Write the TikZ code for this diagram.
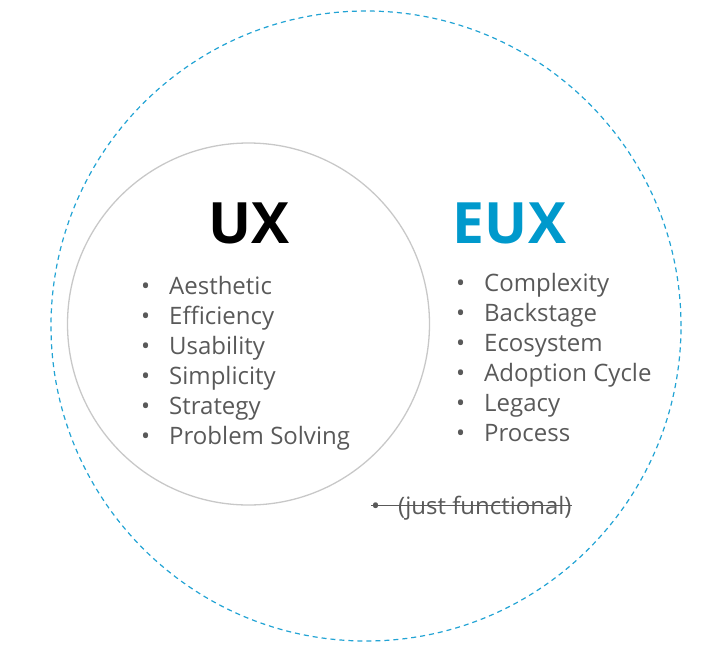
\documentclass[tikz,border=0pt]{standalone}
\usepackage{fontspec}
\setmainfont{Open Sans}
\definecolor{eublue}{HTML}{0099CC}
\definecolor{dashblue}{HTML}{22A3D4}
\definecolor{txtgray}{HTML}{595959}
\definecolor{ringgray}{HTML}{C8C8C8}
\begin{document}
\begin{tikzpicture}[x=1pt,y=-1pt,
  title/.style={font=\fontsize{57}{60}\selectfont\bfseries, anchor=base},
  item/.style={font=\fontsize{24}{28}\selectfont, text=txtgray, anchor=base west, inner sep=0pt},
]
\useasboundingbox (0,0) rectangle (706,656);
\node[draw=dashblue, line width=1.2pt, dash pattern=on 5pt off 4pt, circle, minimum size=630pt, inner sep=0pt] (outer) at (366,326) {};
\node[draw=ringgray, line width=1.3pt, circle, minimum size=362pt, inner sep=0pt] (inner) at (248.5,324) {};
\node[title, text=black] (ux) at (249,243) {UX};
\node[title, text=eublue] (eux) at (509.5,243) {EUX};
\foreach \t [count=\i] in {Aesthetic,Efficiency,Usability,Simplicity,Strategy,Problem Solving}
  \node[item] (u\i) at (141,{294+30*(\i-1)}) {\makebox[28pt][l]{•}\t};
\foreach \t [count=\i] in {Complexity,Backstage,Ecosystem,Adoption Cycle,Legacy,Process}
  \node[item] (e\i) at (456,{291+30*(\i-1)}) {\makebox[28pt][l]{•}\t};
\node[item] (jf) at (371,514) {\makebox[27pt][l]{•}(just functional)};
\draw[txtgray, line width=1pt] (jf.west |- 0,505) -- (jf.east |- 0,505);
\end{tikzpicture}
\end{document}
